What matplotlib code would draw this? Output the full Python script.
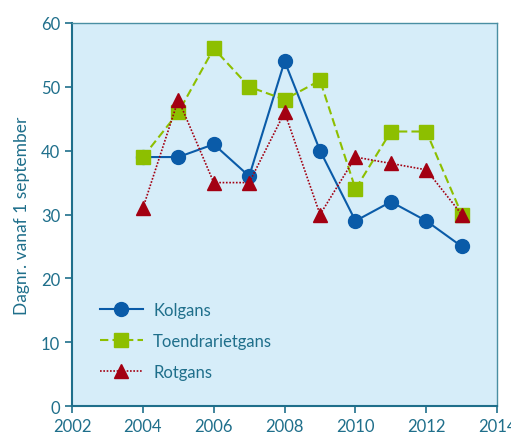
import matplotlib
matplotlib.use("Agg")
import matplotlib.pyplot as plt

years = [2004, 2005, 2006, 2007, 2008, 2009, 2010, 2011, 2012, 2013]
kolgans = [39, 39, 41, 36, 54, 40, 29, 32, 29, 25]
toendra = [39, 46, 56, 50, 48, 51, 34, 43, 43, 30]
rotgans = [31, 48, 35, 35, 46, 30, 39, 38, 37, 30]
labels = ["Kolgans", "Toendrarietgans", "Rotgans"]
xticks = [2002, 2004, 2006, 2008, 2010, 2012, 2014]
yticks = [0, 10, 20, 30, 40, 50, 60]

teal = "#1f6f8b"
plt.rcParams['font.family'] = ['Lato', 'DejaVu Sans']

fig = plt.figure(figsize=(5.11, 4.35), dpi=100)
ax = fig.add_axes([0.141, 0.064, 0.832, 0.881])
ax.set_facecolor("#d6edf9")

ax.plot(years, kolgans, color="#0a5ba8", lw=1.5, ls="-", marker="o", ms=10, label=labels[0], zorder=3)
ax.plot(years, toendra, color="#8dbf00", lw=1.5, ls=(0, (4, 2)), marker="s", ms=9.5, label=labels[1], zorder=4)
ax.plot(years, rotgans, color="#a30012", lw=1.2, ls=(0, (1, 1)), marker="^", ms=10, label=labels[2], zorder=5)

ax.set_xlim(2002, 2014)
ax.set_ylim(0, 60)
ax.set_xticks(xticks)
ax.set_yticks(yticks)
ax.tick_params(colors=teal, labelcolor=teal, labelsize=12, length=5, width=1.2, direction="out")
for s in ["left", "bottom"]:
    ax.spines[s].set_color(teal)
    ax.spines[s].set_linewidth(1.5)
for s in ["top", "right"]:
    ax.spines[s].set_color("#4a8fa3")
    ax.spines[s].set_linewidth(1.0)
ax.set_ylabel("Dagnr. vanaf 1 september", color=teal, fontsize=12.5, labelpad=8)

leg = ax.legend(loc="lower left", bbox_to_anchor=(0.03, 0.03), frameon=False, fontsize=12,
                labelcolor=teal, handlelength=2.6, labelspacing=0.9, handletextpad=0.6)

fig.savefig("out.png", dpi=100)
